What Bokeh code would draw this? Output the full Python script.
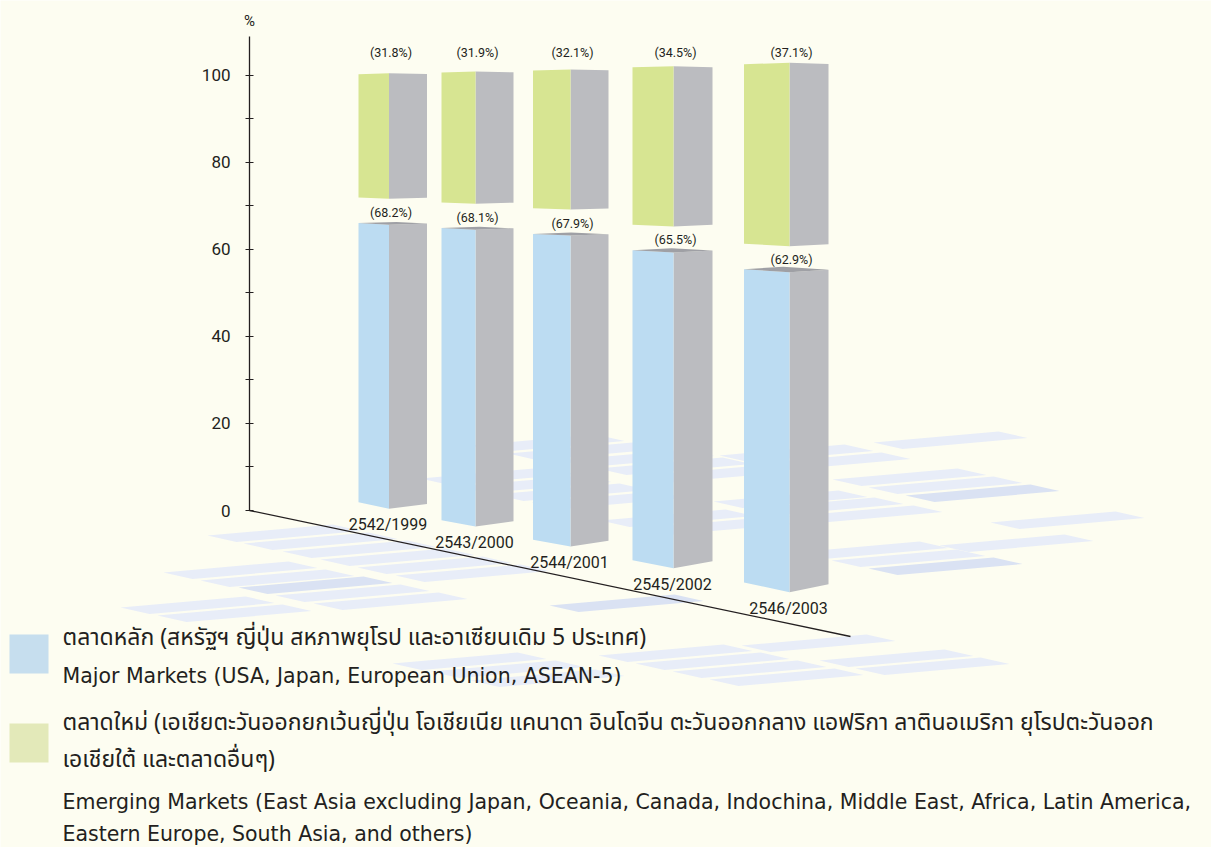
from bokeh.plotting import figure
from bokeh.models import Range1d, LinearAxis, FixedTicker, ColumnDataSource
from bokeh.core.properties import value
from bokeh.embed import file_html
from bokeh.resources import INLINE

# ---------------- data ----------------
years = ["2542/1999", "2543/2000", "2544/2001", "2545/2002", "2546/2003"]
major = [68.2, 68.1, 67.9, 65.5, 62.9]
emerging = [31.8, 31.9, 32.1, 34.5, 37.1]
y_ticks = [0, 20, 40, 60, 80, 100]
y_minor_ticks = [10, 30, 50, 70, 90]
y_unit = "%"

legend_major_th = "ตลาดหลัก (สหรัฐฯ ญี่ปุ่น สหภาพยุโรป และอาเซียนเดิม 5 ประเทศ)"
legend_major_en = "Major Markets (USA, Japan, European Union, ASEAN-5)"
legend_emerging_th = ["ตลาดใหม่ (เอเชียตะวันออกยกเว้นญี่ปุ่น โอเชียเนีย แคนาดา อินโดจีน ตะวันออกกลาง แอฟริกา ลาตินอเมริกา ยุโรปตะวันออก",
                      "เอเชียใต้ และตลาดอื่นๆ)"]
legend_emerging_en = ["Emerging Markets (East Asia excluding Japan, Oceania, Canada, Indochina, Middle East, Africa, Latin America,",
                      "Eastern Europe, South Asia, and others)"]

# ---------------- style / layout ----------------
W, H = 1211, 847
BG = "#FDFDF1"
INK = "#231F20"
BLUE = "#BCDCF2"
GREEN = "#D7E592"
SIDE = "#BBBCC0"
TOPF = "#9FA0A5"
LEG_BLUE = "#C6DEEE"
LEG_GREEN = "#E3E9B9"
STRIPE = "#E8EDF8"
STRIPE_DARK = "#DAE2F3"
NARROW = "Roboto"
LATIN = "DejaVu Sans"
THAI = "'Noto Sans Thai', 'Noto Sans Thai Looped', 'Noto Sans', sans-serif"

PX_PER_PCT = 4.355
ZERO_PY = 510.0
AXIS_X = 249
AXIS_TOP_PY = 36


def u(py):
    return (ZERO_PY - py) / PX_PER_PCT


BAR_L = [358, 441, 532.5, 632, 743.5]
BAR_M = [388.5, 475, 570, 673, 789]
BAR_R = [426.5, 513, 608, 712, 828]
BASE_PY = [508.3, 526, 546, 567.7, 591.7]
FULL_PY = [72.7, 71, 69, 65.7, 62.3]
K_L = [0.017, 0.016, 0.016, 0.018, 0.021]
K_R = [0.013, 0.013, 0.014, 0.016, 0.017]
HORIZON = 130
HALF_GAP = 13

STRIPES = [
    (873, 442, 0),
    (719, 455, 0), (756, 463, 0),
    (832, 479, 0), (868, 487, 0), (905, 495, 1),
    (713, 501, 0), (749, 508, 0), (788, 516, 0),
    (990, 522, 0),
    (939, 545, 0),
    (794, 552, 0), (831, 560, 0), (868, 568, 1),
    (207, 535, 0), (243, 543, 0), (282, 551, 0), (320, 559, 0), (357, 567, 0), (395, 575, 0),
    (163, 572, 0), (200, 580, 0), (238, 587, 1), (275, 595, 0), (313, 603, 0),
    (120, 607, 0), (157, 615, 0),
    (549, 605, 1),
    (741, 645, 0),
    (392, 663, 0), (430, 671, 0), (470, 680, 0),
    (598, 655, 0), (635, 663, 0), (672, 671, 0), (709, 679, 0),
    (819, 660, 0), (855, 668, 0),
    (420, 478, 0), (457, 486, 0), (494, 494, 0), (531, 502, 0),
    (560, 460, 0), (597, 468, 0), (634, 476, 0),
    (470, 445, 0), (507, 453, 0),
    (600, 520, 0), (637, 528, 0),
]
SA = (125, -11)
SD = (29, 6.5)

p = figure(width=W, height=H, x_range=Range1d(0, W), y_range=Range1d(u(H), u(0)),
           output_backend="svg", toolbar_location=None, min_border=0,
           x_axis_location=None, y_axis_location=None,
           background_fill_color=BG, border_fill_color=BG, outline_line_color=None)
p.xgrid.visible = False
p.ygrid.visible = False

# floor stripes
sx, sy, sc_ = [], [], []
for (x0, y0, dark) in STRIPES:
    xs = [x0, x0 + SA[0], x0 + SA[0] + SD[0], x0 + SD[0]]
    ys = [y0, y0 + SA[1], y0 + SA[1] + SD[1], y0 + SD[1]]
    sx.append(xs)
    sy.append([u(v) for v in ys])
    sc_.append(STRIPE_DARK if dark else STRIPE)
p.patches(xs="xs", ys="ys", fill_color="c", line_color=None,
          source=ColumnDataSource(dict(xs=sx, ys=sy, c=sc_)))

# baseline (floor axis)
base_end_x, base_end_py = 850, 636
p.segment(x0=[AXIS_X], y0=[0], x1=[base_end_x], y1=[u(base_end_py)], line_color=INK, line_width=1.3)

# y axis
yax = LinearAxis(fixed_location=AXIS_X, bounds=(0, u(AXIS_TOP_PY)),
                 ticker=FixedTicker(ticks=y_ticks, minor_ticks=y_minor_ticks))
yax.axis_line_color = INK
yax.axis_line_width = 1.3
yax.major_tick_line_color = INK
yax.minor_tick_line_color = INK
yax.major_tick_in = 4
yax.major_tick_out = 4
yax.minor_tick_in = 4
yax.minor_tick_out = 4
yax.major_label_standoff = 15
yax.major_label_text_font = NARROW
yax.major_label_text_font_size = "17px"
yax.major_label_text_color = INK
p.add_layout(yax, "left")

p.text(x=[AXIS_X], y=[u(20)], text=[y_unit], text_align="center", text_baseline="middle",
       text_font=value(NARROW), text_font_size="15px", text_color=INK)


def corner(m, k):
    return m - k * (m - HORIZON)


fx, fy, fc = [], [], []
gx, gy = [], []
tx, ty = [], []
lab_x, lab_y, lab_t = [], [], []
yr_x, yr_y = [], []
for i in range(len(years)):
    L, M, R = BAR_L[i], BAR_M[i], BAR_R[i]
    kL, kR = K_L[i], K_R[i]
    s = (BASE_PY[i] - FULL_PY[i]) / 100.0
    segs = [
        (BASE_PY[i], BASE_PY[i] - major[i] * s + HALF_GAP, BLUE, True),
        (BASE_PY[i] - major[i] * s - HALF_GAP, BASE_PY[i] - (major[i] + emerging[i]) * s, GREEN, False),
    ]
    for bot, top, col, show_top in segs:
        fx.append([L, M, M, L])
        fy.append([u(corner(bot, kL)), u(bot), u(top), u(corner(top, kL))])
        fc.append(col)
        gx.append([M, R, R, M])
        gy.append([u(bot), u(corner(bot, kR)), u(corner(top, kR)), u(top)])
        if show_top and top > HORIZON:
            cl, cr = corner(top, kL), corner(top, kR)
            tx.append([L, M, R, L + R - M])
            ty.append([u(cl), u(top), u(cr), u(cl + cr - top)])
    blue_top = BASE_PY[i] - major[i] * s + HALF_GAP
    lab_x += [M + 2, M + 2]
    lab_y += [u(blue_top - 12.5), u(51.5)]
    lab_t += [f"({major[i]:.1f}%)", f"({emerging[i]:.1f}%)"]
    yr_x.append(M - 1)
    yr_y.append(u(BASE_PY[i] + 16))

p.patches(xs="xs", ys="ys", fill_color=SIDE, line_color=None, source=ColumnDataSource(dict(xs=gx, ys=gy)))
p.patches(xs="xs", ys="ys", fill_color="c", line_color=None, source=ColumnDataSource(dict(xs=fx, ys=fy, c=fc)))
p.patches(xs="xs", ys="ys", fill_color=TOPF, line_color=None, source=ColumnDataSource(dict(xs=tx, ys=ty)))

p.text(x=lab_x, y=lab_y, text=lab_t, text_align="center", text_baseline="middle",
       text_font=value(NARROW), text_font_size="12.5px", text_color=INK)
p.text(x=yr_x, y=yr_y, text=years, text_align="center", text_baseline="middle",
       text_font=value(NARROW), text_font_size="16px", text_color=INK)

# legend
p.quad(left=[9, 9], right=[48, 48], top=[u(634), u(723)], bottom=[u(673), u(762)],
       fill_color=[LEG_BLUE, LEG_GREEN], line_color=None)
TX = 62
p.text(x=[TX, TX, TX], y=[u(637), u(722), u(759)],
       text=[legend_major_th] + legend_emerging_th, text_baseline="middle",
       text_font=value(THAI), text_font_size="23px", text_color=INK)
p.text(x=[TX, TX, TX], y=[u(675), u(801), u(833)],
       text=[legend_major_en] + legend_emerging_en, text_baseline="middle",
       text_font=value(LATIN), text_font_size="20.5px", text_color=INK)

open("out.html", "w").write(file_html(p, INLINE))
